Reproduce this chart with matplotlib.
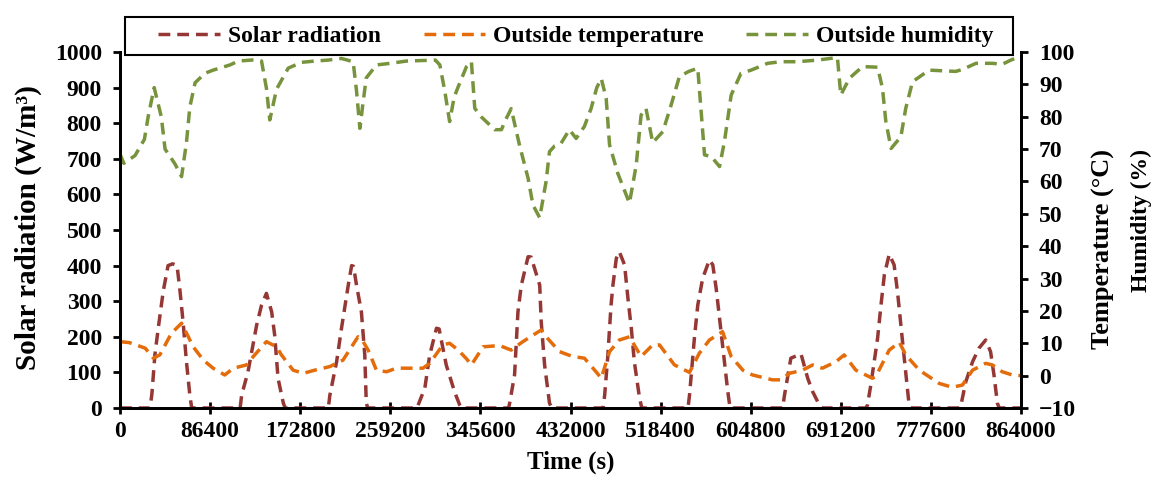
import numpy as np
import matplotlib
matplotlib.use("Agg")
import matplotlib.pyplot as plt
from matplotlib.lines import Line2D
from matplotlib.patches import Rectangle

plt.rcParams['font.family'] = ['Liberation Serif', 'DejaVu Serif']
plt.rcParams['font.weight'] = 'bold'

# data, time in hours
solar_h = [0, 8, 8.5, 9.3, 10.2, 11.5, 12.8, 14, 15.2, 16, 16.8, 17.7, 18.6, 19.1,
           32, 32.4, 34.1, 36.4, 37.7, 39, 40.4, 41.2, 42.1, 43.5, 44,
           55.5, 55.9, 57.7, 59, 60.8, 61.7, 62.2, 63, 64.3, 65.2, 65.6, 66,
           79, 79.4, 81.2, 82.5, 84.3, 85, 86.9, 89.1, 90.5, 91,
           103.5, 103.8, 105.1, 106, 106.9, 108.7, 109.5, 111.8, 112.2, 113.1, 114.4, 115,
           128.7, 129.1, 129.9, 130.8, 131.3, 132.2, 133, 134.4, 135.3, 136.2, 137, 138.4, 139,
           151.3, 151.7, 153, 153.9, 155.2, 157, 157.9, 158.8, 159.7, 160.5, 161.9, 162.5,
           176.5, 177, 178.7, 181.4, 183.2, 184.5, 186.3, 186.8,
           198.7, 199.1, 200, 201.8, 202.7, 203.6, 204.9, 206.2, 207.1, 208, 208.9, 210.2, 210.7,
           223.6, 224, 225.3, 227.1, 228.8, 230.6, 231.9, 232.8, 233.7, 234.2, 240]
solar_w = [0, 0, 40, 150, 225, 327, 400, 405, 400, 327, 242, 130, 36, 0,
           0, 36, 102, 233, 289, 322, 270, 205, 83, 14, 0,
           0, 36, 130, 224, 345, 400, 398, 345, 270, 149, 14, 0,
           0, 8, 56, 149, 224, 222, 121, 46, 8, 0,
           0, 14, 93, 270, 345, 425, 424, 345, 242, 121, 14, 0,
           0, 36, 140, 289, 345, 420, 439, 402, 308, 224, 130, 27, 0,
           0, 36, 196, 289, 364, 416, 402, 336, 252, 177, 46, 0,
           0, 36, 140, 152, 83, 46, 8, 0,
           0, 8, 65, 196, 289, 374, 432, 402, 327, 233, 140, 8, 0,
           0, 8, 74, 130, 168, 191, 158, 93, 14, 0, 0]

temp_h = [0, 2.5, 6.7, 8.9, 10.6, 13.7, 16.4, 18.2, 19.5, 22.2, 24.8, 27.9, 30.2, 33.7,
          35.5, 39, 41.7, 43, 46.1, 48.8, 51.9, 55.9, 59.4, 63.4, 64.5, 66.1, 68.3, 71,
          73.6, 77.2, 80.7, 82.5, 86, 87.8, 90, 92.3, 93.6, 96.7, 101.1, 104.2, 107.3, 110,
          112.2, 113.5, 117.1, 120.6, 123.7, 126.8, 128.2, 130.4, 133, 135.7, 138.8, 141.9,
          143.7, 147.7, 151.7, 154.3, 157, 160.5, 162.8, 165.9, 168.5, 173.8, 176, 178.3,
          181.8, 184.5, 187.1, 190.7, 192.9, 196, 200.4, 201.3, 203.1, 204.9, 207.6, 209.3,
          212.9, 218.2, 221.7, 224.4, 227.1, 230.6, 232.4, 235, 237.7, 240]
temp_c = [10.5, 10.2, 8.5, 5.4, 6.4, 13.1, 16.2, 12, 8.9, 4.8, 2.3, 0.2, 2.3, 3.3,
          5.9, 10.5, 8.9, 6.4, 1.7, 0.7, 1.7, 2.8, 4.8, 12, 11, 7.9, 1.7, 1.2,
          2.3, 2.3, 2.3, 3.8, 9.5, 10, 8, 5.2, 3.3, 8.9, 9.3, 7.9, 10.5, 12.5,
          14.1, 12, 7.4, 5.9, 5.4, 1.2, -0.8, 7.4, 11, 12, 5.9, 9.5,
          9.5, 3.3, 1.0, 6.9, 11, 13.6, 5.9, 1.7, 0.2, -1.3, -1.3, 0.7,
          1.7, 3.3, 2.3, 4.3, 6.4, 1.7, -0.8, -0.3, 3.8, 7.9, 10.3, 6.4,
          1.7, -2.4, -3.6, -2.9, 1.7, 3.8, 3.3, 1.2, 0.2, 0]

hum_h = [0, 1, 4, 6.5, 7.5, 9.1, 11, 12, 14.6, 16.4, 17.7, 18.6, 20, 22.6, 24.8, 29.3,
         31.5, 36, 37.7, 39, 39.9, 41.7, 44.8, 48.3, 51.9, 55.4, 59, 62.1, 63, 63.9,
         64.7, 65.6, 68.3, 72, 76.3, 84, 85.2, 86.5, 87.8, 89, 90, 92.3, 93.6, 94.5,
         96.2, 99.8, 101.6, 102.7, 104.2, 106.4, 108.7, 110, 111.8, 113.5, 114.4, 115.8,
         117.5, 119.7, 121.5, 123.7, 125.5, 127, 128.2, 129.5, 130.4, 132.6, 135.7, 137.5,
         138.8, 140.1, 141.9, 144.6, 146.8, 149, 151.5, 153.9, 154.8, 155.7, 157.5, 159.7,
         161, 162.8, 165.4, 168.1, 172.5, 176, 180.5, 185.8, 191.1, 192, 194.3, 197.8,
         201.8, 203.1, 204, 205.4, 208, 209.3, 211.1, 215.5, 222.6, 224.4, 228, 232.4,
         235, 237.3, 240]
hum_p = [68.5, 65.6, 68, 73, 80, 89, 80, 70, 65.5, 61.5, 72, 83, 90.5, 93.4, 94.4, 96,
         97.2, 97.6, 97.2, 88.8, 79, 88.5, 95, 96.8, 97.2, 97.5, 98, 97, 88, 76.4,
         84, 92, 96, 96.5, 97.2, 97.5, 96, 88, 78.5, 86, 89, 95.5, 97, 82.6,
         80, 76, 76, 79, 82.5, 71.3, 61, 52.7, 48.8, 60, 69.2, 71,
         71.8, 76, 73.3, 77, 82.6, 89, 91.8, 85.7, 71.3, 62.5, 53.3, 65,
         80.5, 82.6, 72, 75.4, 83.6, 92.4, 94, 95, 81.6, 68.2, 67.7, 64.6,
         72.3, 86.7, 93.4, 94.4, 96.5, 97, 97, 97.5, 98.3, 86.7, 91.9, 95.5,
         95.3, 88.8, 78.5, 70.2, 73.8, 82.6, 90.8, 94.4, 94, 94.6, 96.5, 96.5,
         96.2, 97.5, 98.8]

c_solar = '#953735'
c_temp = '#E46C0A'
c_hum = '#77933C'
lw = 2.5
dash = (3.4, 2.0)

fig = plt.figure(figsize=(11.67, 4.87), dpi=100)
ax = fig.add_axes([120/1167, 1-408/487, 901/1167, 356/487])
ax2 = ax.twinx()

ax.plot(np.array(solar_h)*3600, solar_w, color=c_solar, lw=lw, dashes=dash)
ax2.plot(np.array(temp_h)*3600, temp_c, color=c_temp, lw=lw, dashes=dash)
ax2.plot(np.array(hum_h)*3600, hum_p, color=c_hum, lw=lw, dashes=dash)

ax.set_xlim(0, 864000)
ax.set_xticks(np.arange(0, 864001, 86400))
ax.set_ylim(0, 1000)
ax.set_yticks(np.arange(0, 1001, 100))
ax2.set_ylim(-10, 100)
ax2.set_yticks(np.arange(-10, 101, 10))

for a in (ax, ax2):
    a.spines['top'].set_visible(False)
    for s in ('left', 'right', 'bottom'):
        a.spines[s].set_linewidth(2)
ax.tick_params(axis='x', direction='inout', length=9, width=2, labelsize=17, pad=5)
ax.tick_params(axis='y', direction='out', length=5, width=2, labelsize=17, pad=8)
ax2.tick_params(axis='y', direction='out', length=5, width=2, labelsize=17, pad=8)

ax.set_xlabel('Time (s)', fontsize=18, fontweight='bold', labelpad=6)
fig.text(28/1167, 1-228/487, 'Solar radiation (W/m³)', rotation=90,
         ha='center', va='center', fontsize=21, fontweight='bold')
fig.text(1103/1167, 1-149/487, 'Temperature (°C)', rotation=90,
         ha='center', va='top', fontsize=19, fontweight='bold')
fig.text(1141/1167, 1-149/487, 'Humidity (%)', rotation=90,
         ha='center', va='top', fontsize=17, fontweight='bold')

# legend frame drawn separately so it matches the wide box of the original
fig.add_artist(Rectangle((125/1167, 1-55/487), 888/1167, 38/487, transform=fig.transFigure,
                         facecolor='white', edgecolor='black', lw=1.5, zorder=4))
handles = [Line2D([], [], color=c_solar, lw=lw, dashes=dash),
           Line2D([], [], color=c_temp, lw=lw, dashes=dash),
           Line2D([], [], color=c_hum, lw=lw, dashes=dash)]
labels = ['Solar radiation', 'Outside temperature', 'Outside humidity']
leg = fig.legend(handles, labels, loc='center', ncol=3,
                 bbox_to_anchor=(576/1167, 1-36/487), frameon=False,
                 fontsize=17, handlelength=2.6, handletextpad=0.35, columnspacing=1.8,
                 borderaxespad=0, borderpad=0)
leg.set_zorder(5)

fig.savefig('out.png', dpi=100)
